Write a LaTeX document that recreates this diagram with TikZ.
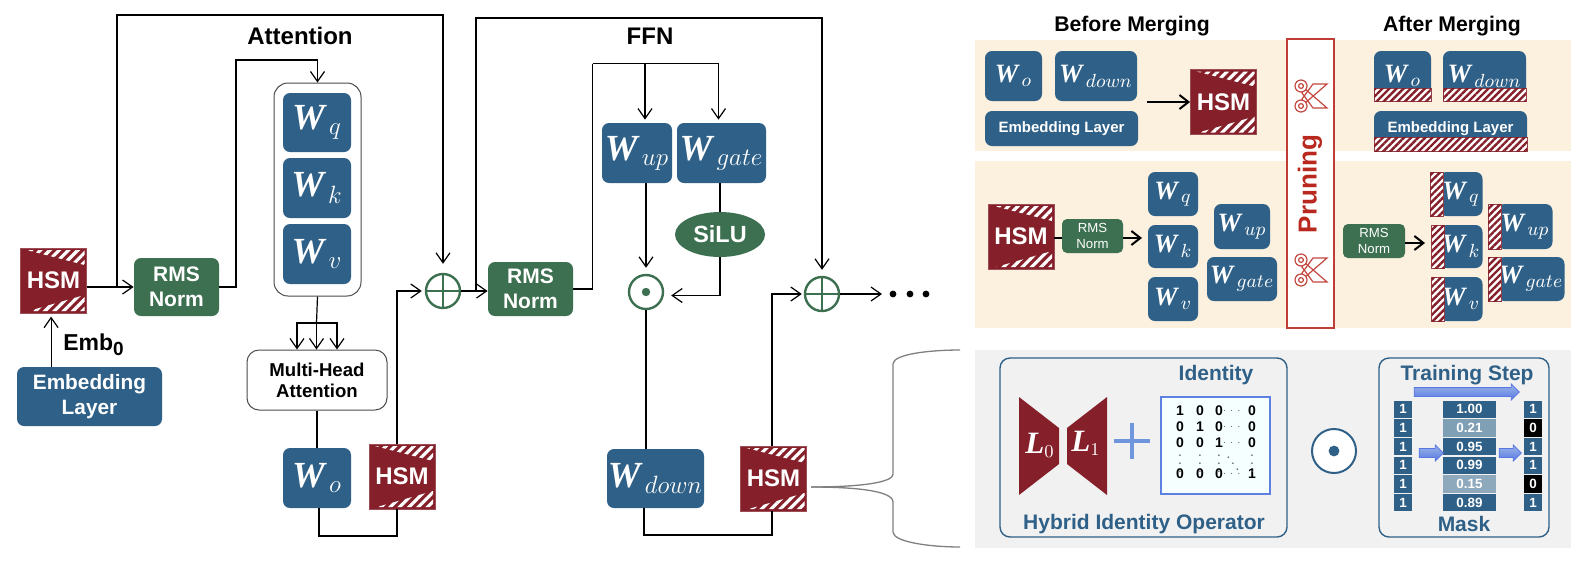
\documentclass[tikz,border=0pt]{standalone}
\usepackage{fix-cm}
\usepackage{amsmath}
\usepackage{fontspec}
\setmainfont{Liberation Sans}
\newfontfamily\wfont{Liberation Serif}
\usetikzlibrary{calc,arrows.meta,patterns.meta,shapes.geometric,shapes.arrows}
\DeclareMathSizes{16}{16}{12.5}{10}
\DeclareMathSizes{11.5}{11.5}{9.5}{8}
\DeclareMathSizes{13.5}{13.5}{9}{7}
\definecolor{wblue}{HTML}{2F6087}
\definecolor{rmsgreen}{HTML}{3D7050}
\definecolor{hsmred}{HTML}{85202A}
\definecolor{creamback}{HTML}{FCF0DF}
\definecolor{greyback}{HTML}{F1F1F1}
\definecolor{pruned}{HTML}{B8281E}
\definecolor{plusblue}{HTML}{6F96DC}
\definecolor{fadeA}{HTML}{7F9FB5}
\definecolor{fadeB}{HTML}{8FA9BC}
\newcommand{\wsub}[1]{\scalebox{1.15}{\wfont\bfseries\itshape W}$\vphantom{W}_{\,#1}$}
\newcommand{\scissorsmark}[2]{
\begin{scope}[shift={(#1,#2)},draw=pruned!85,line width=.6pt]
\draw (-7,-8) -- (16,12) -- (2,12) -- (-9,-3) -- cycle;
\draw (-7,8) -- (16,-12) -- (2,-12) -- (-9,3) -- cycle;
\draw[fill=white] (-10,-10) circle (3pt);
\draw[fill=white] (-10,10) circle (3pt);
\draw (-10,-10) circle (1.2pt);
\draw (-10,10) circle (1.2pt);
\end{scope}
}
\tikzset{
  sized/.style 2 args={minimum width=#1*0.5pt,minimum height=#2*0.5pt},
  wire/.style={draw=black,line width=.6pt},
  flow/.style={wire,-{Straight Barb[length=5pt,width=7pt]}},
  fatflow/.style={draw=black,line width=1pt,-{Straight Barb[length=4.5pt,width=7pt]}},
  bigw/.style={font=\fontsize{16}{18}\selectfont},
  smallw/.style={font=\fontsize{11.5}{13}\selectfont},
  wbox/.style={rectangle,rounded corners=3.5pt,fill=wblue,text=white,inner sep=0pt},
  rmsbox/.style={rectangle,rounded corners=3.5pt,fill=rmsgreen,text=white,align=center,inner sep=0pt,
    font=\fontsize{10.5}{12.5}\selectfont\bfseries},
  rmssmall/.style={rmsbox,rounded corners=2.5pt,font=\fontsize{6.6}{8}\selectfont},
  hsm/.style={rectangle,fill=hsmred,draw=hsmred!80,line width=.4pt,text=white,inner sep=0pt,sized={66}{65},
    font=\fontsize{12}{14}\selectfont\bfseries,
    path picture={
      \path[pattern={Lines[angle=45,distance=3.3pt,line width=1.6pt]},pattern color=white]
        ($(path picture bounding box.north west)+(6,2)$) -- ($(path picture bounding box.north east)+(-2,2)$)
        -- ($(path picture bounding box.north east)+(-2,17)$) -- cycle;
      \path[pattern={Lines[angle=45,distance=3.3pt,line width=1.6pt]},pattern color=white]
        ($(path picture bounding box.south west)+(8,-2)$) -- ($(path picture bounding box.south east)+(-2,-2)$)
        -- ($(path picture bounding box.south east)+(-2,-18)$) -- cycle;
    }},
  hatchbar/.style={rectangle,draw=hsmred!85,line width=.5pt,fill=white,inner sep=0pt,
    postaction={pattern={Lines[angle=45,distance=2.5pt,line width=1.2pt]},pattern color=hsmred}},
  oplusnode/.style={circle,draw=rmsgreen,line width=1.2pt,minimum size=17pt,inner sep=0pt,
    path picture={\draw[rmsgreen,line width=1pt] (path picture bounding box.north) -- (path picture bounding box.south)
      (path picture bounding box.west) -- (path picture bounding box.east);}},
  odotnode/.style={circle,draw=rmsgreen,line width=1.2pt,minimum size=17pt,inner sep=0pt,
    path picture={\fill[rmsgreen] (path picture bounding box.center) circle (2.1pt);}},
  headlabel/.style={font=\fontsize{12}{14}\selectfont\bfseries},
  sidelabel/.style={font=\fontsize{10.6}{13}\selectfont\bfseries},
  bluelabel/.style={text=wblue,font=\fontsize{10.5}{13}\selectfont\bfseries},
  panelbox/.style={rectangle,draw=wblue,line width=.7pt,rounded corners=5pt,fill=greyback,inner sep=0pt},
  matnum/.style={font=\fontsize{7}{8}\selectfont\bfseries,inner sep=0pt},
  maskcell/.style={rectangle,fill=wblue,text=white,inner sep=0pt,font=\fontsize{6.7}{8}\selectfont\bfseries},
  blockarrow/.style={single arrow,draw=plusblue!80!blue,line width=.4pt,inner xsep=0pt,inner ysep=2pt,
    top color=plusblue!70,bottom color=plusblue!80!blue,single arrow head extend=1.75pt}
}
\begin{document}
\begin{tikzpicture}[x=.5pt,y=-.5pt]
\path[use as bounding box,fill=white] (0,0) rectangle (1590,580);

% left: attention block
\node[hsm] (hsmA) at (53.5,280.5) {HSM};
\node[wbox,sized={145}{59},align=center,font=\fontsize{10.4}{12.5}\selectfont\bfseries] (embLayer) at (89.5,396.5) {Embedding\\Layer};
\node[font=\fontsize{11.5}{14}\selectfont\bfseries] (embLabel) at (94,345) {Emb\textsubscript{0}};
\node[rmsbox,sized={85}{58}] (rmsA) at (176.5,287) {RMS\\Norm};
\node[headlabel] (attnLabel) at (300,36) {Attention};
\node[rectangle,draw=black!70,line width=.5pt,rounded corners=7pt,sized={87}{213}] (wstack) at (317.5,189.5) {};
\node[wbox,bigw,sized={68}{59}] (wq) at (317,122.5) {\wsub{q}};
\node[wbox,bigw,sized={68}{60}] (wk) at (317,188) {\wsub{k}};
\node[wbox,bigw,sized={68}{60}] (wv) at (317,254) {\wsub{v}};
\node[rectangle,draw=black!70,line width=.5pt,rounded corners=6pt,sized={140}{60},align=center,
  font=\fontsize{9.3}{10.5}\selectfont\bfseries] (mha) at (317,380) {Multi-Head\\Attention};
\node[wbox,bigw,sized={68}{60}] (wo) at (317,478) {\wsub{o}};
\node[hsm] (hsmB) at (402,476.5) {HSM};
\node[oplusnode] (oplusA) at (443,291) {};

% middle: ffn block
\node[rmsbox,sized={85}{54}] (rmsB) at (530.5,289) {RMS\\Norm};
\node[headlabel] (ffnLabel) at (650,36) {FFN};
\node[wbox,bigw,sized={70}{60}] (wup) at (637,153) {\wsub{up}};
\node[wbox,bigw,sized={89}{60}] (wgate) at (721.5,153) {\wsub{gate}};
\node[ellipse,fill=rmsgreen,text=white,sized={90}{45},inner sep=0pt,font=\fontsize{11.7}{14}\selectfont\bfseries] (silu) at (720,234.5) {SiLU};
\node[odotnode] (odot) at (646,292) {};
\node[oplusnode] (oplusB) at (822,294) {};
\node[wbox,bigw,sized={97}{59}] (wdown) at (655.5,478.5) {\wsub{down}};
\node[hsm] (hsmC) at (773.5,478.5) {HSM};

\coordinate (skipA) at (117,287);
\coordinate (topA) at (117,15);
\coordinate (riseA) at (236,60);
\coordinate (splitA) at (316.5,323);
\coordinate (bottomA) at (319,536);
\coordinate (skipB) at (476,291);
\coordinate (topB) at (476,18);
\coordinate (riseB) at (592.5,63.5);
\coordinate (bottomB) at (644,535);
\coordinate (dotsStart) at (882,294);

\draw[flow] (embLayer.north -| hsmA.south) ++(-1.2pt,0) -- ++(0,-50);
\draw[flow] (hsmA.east |- rmsA.west) -- (rmsA.west);
\draw[flow,shorten >=4.5pt] (skipA) -- (topA) -| (oplusA.north);
\draw[flow] (rmsA.east) -| (riseA) -| (wstack.north);
\draw[wire] (wstack.south) -- (splitA);
\draw[flow] (splitA) -- (splitA |- mha.north);
\draw[flow] (splitA) -| ([xshift=-10pt]mha.north);
\draw[flow] (splitA) -| ([xshift=10pt]mha.north);
\draw[wire] (mha.south) -- (wo.north);
\draw[wire] (bottomA |- wo.south) -- (bottomA) -| ([xshift=-2.5pt]hsmB.south);
\draw[flow,shorten >=1.5pt] ([xshift=-2.5pt]hsmB.north) |- (oplusA.west);
\draw[flow] (oplusA.east) -- (rmsB.west |- oplusA.east);
\draw[flow,shorten >=3pt] (skipB) -- (topB) -| (oplusB.north);
\draw[wire] (rmsB.east) -| (riseB);
\draw[flow,shorten >=1.5pt] (riseB) -| ([xshift=4pt]wup.north);
\draw[flow,shorten >=1.5pt] (riseB) -| ([xshift=-1.5pt]wgate.north);
\draw[flow,shorten >=3pt] (odot.north |- wup.south) -- (odot.north);
\draw[wire] (silu.north |- wgate.south) -- (silu.north);
\draw[flow,shorten >=3.5pt] (silu.south) |- ([yshift=-1.75pt]odot.east);
\draw[wire] (odot.south) -- (odot.south |- wdown.north);
\draw[wire] (bottomB |- wdown.south) -- (bottomB) -| ([xshift=-.75pt]hsmC.south);
\draw[flow,shorten >=1pt] ([xshift=-.75pt]hsmC.north) |- (oplusB.west);
\draw[flow] (oplusB.east) -- (dotsStart);
\foreach \dx in {893,910,926}
  \fill (\dx,294) circle (1.7pt);

% brace to lower panel
\coordinate (braceRoot) at (811,487);
\draw[black!50,line width=.65pt] (braceRoot) .. controls (850,487) and (893,484) .. (893,474) -- (893,364) .. controls (893,354) and (930,350) .. (960,350);
\draw[black!50,line width=.65pt] (braceRoot) .. controls (850,487) and (893,490) .. (893,502) -- (893,532) .. controls (893,542) and (930,547) .. (960,547);

% right: merging panels
\fill[creamback] (975,40) rectangle (1571,151);
\fill[creamback] (975,161) rectangle (1571,328);
\fill[greyback] (975,350) rectangle (1571,548);
\node[sidelabel] (beforeLabel) at (1132,26) {Before Merging};
\node[sidelabel] (afterLabel) at (1452,26) {After Merging};
\node[rectangle,draw=pruned!90,fill=white,line width=.8pt,sized={47}{289}] (pruneBox) at (1310.5,183.5) {};
\node[rotate=90,text=pruned,font=\fontsize{13}{15}\selectfont\bfseries] (pruneLabel) at (1310,184) {Pruning};
\scissorsmark{1311}{96}
\scissorsmark{1311}{270}

\node[wbox,smallw,sized={57}{50}] (woA) at (1013.5,76) {\wsub{o}};
\node[wbox,smallw,sized={82}{50}] (wdownA) at (1096,76) {\wsub{down}};
\node[wbox,sized={153}{35},font=\fontsize{7.5}{9}\selectfont\bfseries] (embA) at (1061.5,128.5) {Embedding Layer};
\node[hsm] (hsmD) at (1223.5,102) {HSM};
\coordinate (mergeStart) at (1147,102);
\draw[fatflow] (mergeStart) -- (hsmD.west);

\node[wbox,smallw,sized={57}{50}] (woB) at (1402.5,76) {\wsub{o}};
\node[hatchbar,sized={57}{13}] (woCut) at (1402.5,94.5) {};
\node[wbox,smallw,sized={83}{50}] (wdownB) at (1484.5,76) {\wsub{down}};
\node[hatchbar,sized={83}{13}] (wdownCut) at (1484.5,94.5) {};
\node[wbox,sized={153}{40},text depth=4pt,font=\fontsize{7.5}{9}\selectfont\bfseries] (embB) at (1450.5,131) {Embedding Layer};
\node[hatchbar,sized={153}{14}] (embCut) at (1450.5,144) {};

\node[hsm] (hsmE) at (1021,236.5) {HSM};
\node[rmssmall,sized={61}{34}] (rmsC) at (1092.5,236) {RMS\\Norm};
\coordinate (rmsCtip) at (1142,238);
\draw[line width=1pt] (hsmE.east |- rmsCtip) -- (rmsC.west |- rmsCtip);
\draw[fatflow] (rmsC.east |- rmsCtip) -- (rmsCtip);
\node[wbox,smallw,sized={50}{44}] (wqA) at (1173,194) {\wsub{q}};
\node[wbox,smallw,sized={50}{43}] (wkA) at (1173,246.5) {\wsub{k}};
\node[wbox,smallw,sized={50}{44}] (wvA) at (1173,299) {\wsub{v}};
\node[wbox,smallw,sized={56}{45}] (wupA) at (1242,226.5) {\wsub{up}};
\node[wbox,smallw,sized={70}{44}] (wgateA) at (1242,279) {\wsub{gate}};

\node[rmssmall,sized={62}{34}] (rmsD) at (1374,241) {RMS\\Norm};
\coordinate (rmsDtip) at (1425,243);
\draw[fatflow] (rmsD.east |- rmsDtip) -- (rmsDtip);
\foreach \nm/\yy/\hh/\sb/\cx in {wqB/194/44/q/1436.5,wkB/246.5/43/k/1438,wvB/299/44/v/1438}{
  \node[wbox,smallw,sized={43}{\hh}] (\nm) at (1461,\yy) {\wsub{\sb}};
  \node[hatchbar,sized={13}{\hh}] (\nm Cut) at (\cx,\yy) {};
}
\node[wbox,smallw,sized={55}{45}] (wupB) at (1525,226.5) {\wsub{up}};
\node[hatchbar,sized={13}{45}] (wupCut) at (1494.5,226.5) {};
\node[wbox,smallw,sized={67}{44}] (wgateB) at (1531,279) {\wsub{gate}};
\node[hatchbar,sized={13}{44}] (wgateCut) at (1494.5,279) {};

% lower panel: operator
\node[panelbox,sized={287}{179}] (hioBox) at (1143.5,447.5) {};
\node[bluelabel] (identLabel) at (1216,375) {Identity};
\node[bluelabel] (hioLabel) at (1144,524) {Hybrid Identity Operator};
\fill[hsmred] (1019,397) -- (1059,428) -- (1059,464) -- (1019,495) -- cycle;
\fill[hsmred] (1107,397) -- (1067,428) -- (1067,464) -- (1107,495) -- cycle;
\node[text=white,font=\fontsize{13.5}{15}\selectfont] (lzero) at (1040,445) {\scalebox{1.15}{\wfont\bfseries\itshape L}$_{0}$};
\node[text=white,font=\fontsize{13.5}{15}\selectfont] (lone) at (1086,443) {\scalebox{1.15}{\wfont\bfseries\itshape L}$_{1}$};
\draw[plusblue,line width=2pt] (1114,441) -- (1150,441) (1132,423) -- (1132,459);
\node[rectangle,draw=plusblue!85!blue,fill=blue!4!cyan!4,line width=1pt,sized={109}{97}] (idBox) at (1215.5,445.5) {};
\foreach \ry/\aa/\bb/\cc/\dd in {411/1/0/0/0,427/0/1/0/0,443/0/0/1/0,474/0/0/0/1}{
  \node[matnum] (mA\ry) at (1180,\ry) {\aa};
  \node[matnum] (mB\ry) at (1200,\ry) {\bb};
  \node[matnum] (mC\ry) at (1219,\ry) {\cc};
  \node[matnum,text=black!60] (mD\ry) at (1233,\ry) {\tiny$\cdots$};
  \node[matnum] (mE\ry) at (1252,\ry) {\dd};
}
\foreach \cx in {1180,1200,1219,1252}
  \node[matnum,text=black!60] (mV\cx) at (\cx,458) {\tiny$\vdots$};
\node[matnum,text=black!60] (mDiag) at (1233,458) {\tiny$\ddots$};

\node[circle,draw=wblue,line width=1pt,fill=white,minimum size=22pt,inner sep=0pt,
  path picture={\fill[wblue] (path picture bounding box.center) circle (2.7pt);}] (odotBig) at (1334,451) {};

% lower panel: mask
\node[panelbox,sized={170}{179}] (maskBox) at (1464,447.5) {};
\node[bluelabel] (stepLabel) at (1467,375) {Training Step};
\node[bluelabel] (maskLabel) at (1464,524) {Mask};
\node[blockarrow,sized={15}{105}] (stepArrow) at (1464.5,392) {};
\foreach \ii/\yy/\vv/\shade/\res in {1/409.3/1.00/wblue/1,2/428/0.21/fadeA/0,3/446.7/0.95/wblue/1,4/465.3/0.99/wblue/1,5/484/0.15/fadeB/0,6/502.7/0.89/wblue/1}{
  \node[maskcell,sized={18}{17.3}] (one\ii) at (1403,\yy) {1};
  \node[maskcell,fill=\shade,sized={53}{17.3}] (val\ii) at (1469.5,\yy) {\vv};
  \ifnum\res=0
    \node[maskcell,fill=black,sized={18}{17.3}] (res\ii) at (1533,\yy) {\res};
  \else
    \node[maskcell,sized={18}{17.3}] (res\ii) at (1533,\yy) {\res};
  \fi
}
\node[blockarrow,sized={16}{24}] (maskIn) at (1429,453) {};
\node[blockarrow,sized={16}{22}] (maskOut) at (1508,453) {};
\end{tikzpicture}
\end{document}
